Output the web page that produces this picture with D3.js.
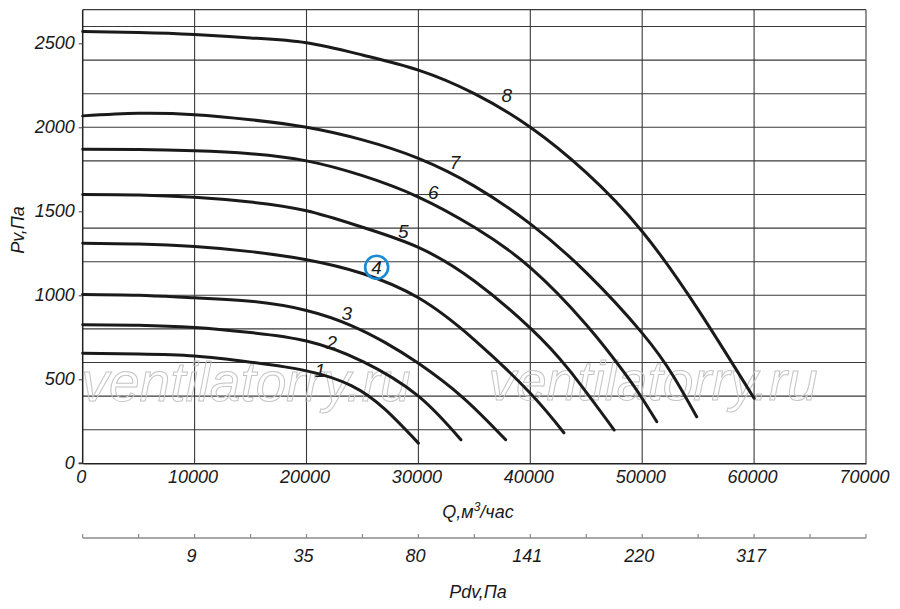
<!DOCTYPE html>
<html><head><meta charset="utf-8">
<script src="https://cdn.jsdelivr.net/npm/d3@7"></script>
<style>
html,body{margin:0;padding:0;background:#fff;}
svg{display:block;font-family:"Liberation Sans",Arial,sans-serif;font-style:italic;}
</style></head>
<body>
<svg id="chart" width="900" height="609"></svg>
<script>
// ---- data ----
const qTicks = [0,10000,20000,30000,40000,50000,60000,70000];
const pTicks = [0,500,1000,1500,2000,2500];
const pGrid = [200,400,600,800,1000,1200,1400,1600,1800,2000,2200,2400,2600];
const pdvTickQ = [0,5000,10000,15000,20000,25000,30000,35000,40000,45000,50000,55000,60000,65000,70000];
const pdvLabelQ = [10000,20000,30000,40000,50000,60000];
const pdvLabels = ["9","35","80","141","220","317"];

const curve1 = [[0,655],[5000,650],[10000,638],[15000,602],[20000,550],[24000,462],[27000,322],[30000,120]];
const curve2 = [[0,825],[5000,822],[10000,808],[15000,778],[20000,728],[25000,607],[30000,400],[33800,140]];
const curve3 = [[0,1005],[5000,1000],[10000,985],[15000,965],[20000,910],[24000,820],[27000,720],[30000,595],[34000,390],[37800,140]];
const curve4 = [[0,1310],[5000,1305],[10000,1290],[15000,1260],[20000,1212],[25000,1130],[30000,985],[35000,735],[40000,417],[43000,182]];
const curve5 = [[0,1600],[5000,1597],[10000,1583],[15000,1555],[20000,1503],[25000,1405],[30000,1285],[35000,1085],[40000,805],[43500,553],[47500,198]];
const curve6 = [[0,1870],[5000,1868],[10000,1860],[15000,1843],[20000,1800],[25000,1712],[30000,1585],[35000,1405],[40000,1165],[45000,825],[48300,548],[50000,386],[51300,248]];
const curve7 = [[0,2068],[5000,2083],[10000,2075],[15000,2045],[20000,2000],[25000,1925],[30000,1815],[35000,1650],[40000,1425],[45000,1135],[50000,775],[52800,517],[54870,277]];
const curve8 = [[0,2570],[5000,2565],[10000,2553],[15000,2532],[20000,2503],[25000,2430],[30000,2340],[35000,2200],[40000,2000],[45000,1730],[50000,1380],[55000,915],[60000,387]];
const curves = [curve1,curve2,curve3,curve4,curve5,curve6,curve7,curve8];
const curveNames = ["1","2","3","4","5","6","7","8"];
const labelQ = [21200,22250,23590,26270,28650,31330,33270,37890];
const labelP = [555,724,893,1167,1384,1613,1795,2192];

// ---- drawing ----
const svg = d3.select("#chart");
const x = d3.scaleLinear().domain([0,70000]).range([82.7,866]);
const y = d3.scaleLinear().domain([0,2700]).range([463.3,9.7]);

// grid
const g = svg.append("g");
g.selectAll("line.h").data(pGrid).join("line")
  .attr("x1",x(0)).attr("x2",x(70000))
  .attr("y1",d=>y(d)).attr("y2",d=>y(d))
  .attr("stroke","#3a3a3a").attr("stroke-width",1.1);
g.selectAll("line.v").data(qTicks.slice(1,-1)).join("line")
  .attr("x1",d=>x(d)).attr("x2",d=>x(d))
  .attr("y1",y(0)).attr("y2",y(2700))
  .attr("stroke","#3a3a3a").attr("stroke-width",1.1);
// frame
g.append("line").attr("x1",x(0)).attr("x2",x(70000)).attr("y1",y(2700)).attr("y2",y(2700)).attr("stroke","#3a3a3a").attr("stroke-width",1.2);
g.append("line").attr("x1",x(70000)).attr("x2",x(70000)).attr("y1",y(0)).attr("y2",y(2700)).attr("stroke","#666").attr("stroke-width",1.4);

// watermark
[[246,401],[653,400]].forEach(([cx,by])=>{
  svg.append("text").attr("x",cx).attr("y",by).attr("text-anchor","middle")
    .attr("font-size",55).attr("font-family","'Liberation Sans',Arial,sans-serif")
    .attr("font-style","italic")
    .attr("fill","none").attr("stroke","#c4c4c4").attr("stroke-width",1)
    .text("ventilatorry.ru");
});

// axes
const yAxis = d3.axisLeft(y).tickValues(pTicks).tickSize(4).tickPadding(4).tickFormat(d3.format("d"));
const ya = svg.append("g").attr("transform",`translate(${x(0)},0)`).call(yAxis);
ya.select(".domain").attr("stroke","#222").attr("stroke-width",1.5).attr("d",`M-4,${y(0)}H0V${y(2700)}`);
ya.selectAll(".tick line").attr("stroke","#444");
ya.selectAll(".tick text").attr("font-size",18).attr("font-family",null).attr("fill","#1a1a1a").attr("dy","0.28em");

const xAxis = d3.axisBottom(x).tickValues(qTicks).tickSize(0).tickPadding(10).tickFormat(d3.format("d"));
const xa = svg.append("g").attr("transform",`translate(0,${y(0)})`).call(xAxis);
xa.select(".domain").attr("stroke","#222").attr("stroke-width",1.5);
xa.selectAll(".tick text").attr("font-size",18).attr("font-family",null).attr("fill","#1a1a1a").attr("dx","-2").attr("dy","0.55em");

svg.append("text").attr("x",478).attr("y",518).attr("text-anchor","middle").attr("font-size",18).attr("fill","#1a1a1a")
  .call(t=>{t.append("tspan").text("Q,м");t.append("tspan").attr("font-size",12).attr("dy",-7).text("3");t.append("tspan").attr("dy",7).text("/час");});

svg.append("text").attr("transform","translate(24,230) rotate(-90)").attr("text-anchor","middle")
  .attr("font-size",18).attr("fill","#1a1a1a").text("Pv,Па");

// Pdv axis
const pa = svg.append("g").attr("transform","translate(0,538)");
pa.append("line").attr("x1",x(0)).attr("x2",x(70000)).attr("stroke","#8a8a8a").attr("stroke-width",1.6);
pa.selectAll("line.t").data(pdvTickQ).join("line").attr("class","t")
  .attr("x1",d=>x(d)).attr("x2",d=>x(d)).attr("y1",0).attr("y2",-4)
  .attr("stroke","#8a8a8a").attr("stroke-width",1.2);
pa.selectAll("text").data(pdvLabelQ).join("text")
  .attr("x",d=>x(d)-3).attr("y",24).attr("text-anchor","middle").attr("font-size",18).attr("fill","#1a1a1a")
  .text((d,i)=>pdvLabels[i]);
svg.append("text").attr("x",478).attr("y",598).attr("text-anchor","middle").attr("font-size",18).attr("fill","#1a1a1a").text("Pdv,Па");

// curves
const line = d3.line().x(d=>x(d[0])).y(d=>y(d[1])).curve(d3.curveNatural);
svg.append("g").selectAll("path").data(curves).join("path")
  .attr("d",line).attr("fill","none").attr("stroke","#1a1a1a").attr("stroke-width",3).attr("stroke-linecap","round");

// curve labels
svg.append("g").selectAll("text").data(curveNames).join("text")
  .attr("x",(d,i)=>x(labelQ[i])).attr("y",(d,i)=>y(labelP[i])).attr("dy","0.36em")
  .attr("text-anchor","middle").attr("font-size",19).attr("fill","#1a1a1a").text(d=>d);
svg.append("circle").attr("cx",x(labelQ[3])).attr("cy",y(labelP[3])).attr("r",11.5)
  .attr("fill","none").attr("stroke","#1a8ad4").attr("stroke-width",2.6);
</script>
</body></html>
